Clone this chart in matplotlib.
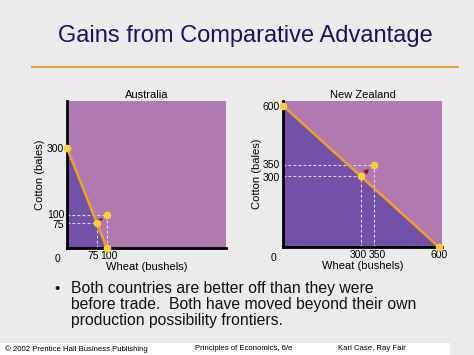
import numpy as np
import matplotlib.pyplot as plt
from matplotlib.patches import Rectangle
from matplotlib.transforms import ScaledTranslation

plt.rcParams['font.family'] = ['Liberation Sans', 'DejaVu Sans']

# data
countries = ['Australia', 'New Zealand']
ppf_cotton = [300, 600]      # max cotton (y intercept)
ppf_wheat = [100, 600]       # max wheat (x intercept)
before = [(75, 75), (300, 300)]    # (wheat, cotton) before trade
after = [(100, 100), (350, 350)]   # (wheat, cotton) after trade
xticks = [[75, 100], [300, 350, 600]]
yticks = [[75, 100, 300], [300, 350, 600]]
xmax = [400, 612]
ymax = [440, 620]
# little nudges (px) so crowded tick labels sit apart like the slide
xnudge = [[-4, 2], [-3, 3, 0]]
ynudge = [[-1, 1, 0], [-1, 1, 0]]

BG = '#ebebeb'
LIGHT = '#b07ab0'
DARK = '#7252a8'
ORANGE = '#f0a028'
DOT = '#f8d034'

W, H = 474, 355
fig = plt.figure(figsize=(W / 100, H / 100), dpi=100, facecolor=BG)

def px(x0, y0, x1, y1):
    return [x0 / W, 1 - y1 / H, (x1 - x0) / W, (y1 - y0) / H]

fig.text(245 / W, 1 - 36 / H, 'Gains from Comparative Advantage', ha='center', va='center',
         fontsize=17, color='#16165a')
fig.add_artist(plt.Line2D([32 / W, 458 / W], [1 - 67 / H] * 2, color='#e8a030', lw=1.4))

boxes = [px(67, 101, 226, 248), px(283, 101, 442, 247)]

for i, name in enumerate(countries):
    ax = fig.add_axes(boxes[i])
    ax.set_facecolor(LIGHT)
    ax.set_xlim(0, xmax[i])
    ax.set_ylim(0, ymax[i])
    for s in ['top', 'right']:
        ax.spines[s].set_visible(False)
    for s in ['left', 'bottom']:
        ax.spines[s].set_linewidth(2)
        ax.spines[s].set_color('black')
    wx = [0, ppf_wheat[i]]
    cy = [ppf_cotton[i], 0]
    ax.fill_between(wx, cy, 0, color=DARK, lw=0)
    ax.plot(wx, cy, color=ORANGE, lw=1.8, clip_on=False, zorder=3)
    ax.scatter(wx, cy, s=20, color=DOT, zorder=5, clip_on=False)

    bx, by = before[i]
    axx, ayy = after[i]
    for (x, y) in [before[i], after[i]]:
        ax.plot([0, x], [y, y], color='#e8d8f0', lw=0.8, ls=(0, (2.5, 2)), zorder=2)
        ax.plot([x, x], [0, y], color='#e8d8f0', lw=0.8, ls=(0, (2.5, 2)), zorder=2)
    ax.annotate('', xy=(bx + (axx - bx) * 0.8, by + (ayy - by) * 0.8),
                xytext=(bx + (axx - bx) * 0.25, by + (ayy - by) * 0.25),
                arrowprops=dict(arrowstyle='-|>', color='#8a1a3a', lw=1.2, mutation_scale=6), zorder=4)
    ax.scatter([bx, axx], [by, ayy], s=20, color=DOT, zorder=5)

    ax.set_xticks(xticks[i])
    ax.set_yticks(yticks[i])
    ax.tick_params(length=0, labelsize=7.5, pad=2)
    for lab, dx in zip(ax.get_xticklabels(), xnudge[i]):
        lab.set_transform(lab.get_transform() + ScaledTranslation(dx / 100, 0, fig.dpi_scale_trans))
    for lab, dy in zip(ax.get_yticklabels(), ynudge[i]):
        lab.set_transform(lab.get_transform() + ScaledTranslation(0, dy / 100, fig.dpi_scale_trans))
    ax.set_title(name, fontsize=8, pad=2)
    ax.set_xlabel('Wheat (bushels)', fontsize=8, labelpad=1)
    ax.set_ylabel('Cotton (bales)', fontsize=8, labelpad=1)
    ax.text(-0.04, -0.04, '0', transform=ax.transAxes, ha='right', va='top', fontsize=7.5)

lines = ['Both countries are better off than they were',
         'before trade.  Both have moved beyond their own',
         'production possibility frontiers.']
fig.text(54 / W, 1 - 293 / H, '\u2022', fontsize=11, va='baseline')
for k, ln in enumerate(lines):
    fig.text(71 / W, 1 - (293 + 16 * k) / H, ln, fontsize=11.3, va='baseline', color='#111111')

fig.add_artist(Rectangle((0, 0), 450 / W, 12 / H, transform=fig.transFigure, color='white', lw=0))
fig.text(5 / W, 6 / H, '\u00a9 2002 Prentice Hall Business Publishing', fontsize=5.6, va='center')
fig.text(195 / W, 6 / H, 'Principles of Economics, 6/e', fontsize=5.6, va='center')
fig.text(338 / W, 6 / H, 'Karl Case, Ray Fair', fontsize=5.6, va='center')

fig.savefig('out.png', dpi=100, facecolor=BG)
